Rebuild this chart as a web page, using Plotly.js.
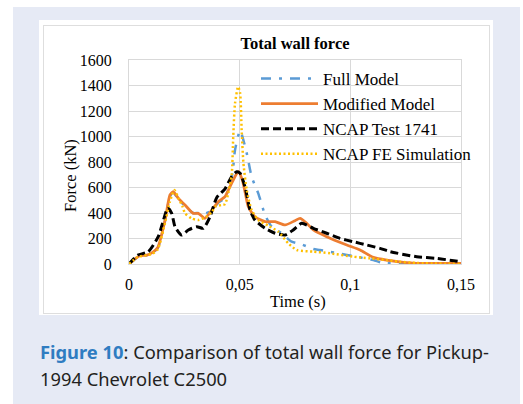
<!DOCTYPE html>
<html>
<head>
<meta charset="utf-8">
<script src="https://cdn.plot.ly/plotly-3.0.1.min.js"></script>
<style>
  html, body { margin:0; padding:0; background:#ffffff; }
  #stage { position:relative; width:523px; height:404px; overflow:hidden; }
  #panel { position:absolute; left:13px; top:7px; width:507px; height:397px; background:#e6eaf5; }
  #box { position:absolute; left:39px; top:20px; width:454px; height:295px; background:#ffffff; }
  #frame { position:absolute; left:43px; top:25px; width:445px; height:287px; border:1px solid #dedede; }
  #chart { position:absolute; left:0; top:0; width:523px; height:404px; }
  #caption { position:absolute; left:40px; top:339px; font-family:"Noto Sans","Open Sans",sans-serif; font-size:18px; line-height:27px; color:#231f20; white-space:nowrap; transform-origin:0 0; }
  #caption b { color:#2f7cc1; }
</style>
</head>
<body>
<div id="stage">
  <div id="panel"></div>
  <div id="box"></div>
  <div id="frame"></div>
  <div id="chart"></div>
  <div id="caption"><div id="cap1"><b>Figure 10</b>: Comparison of total wall force for Pickup-</div><div>1994 Chevrolet C2500</div></div>
</div>
<script>
// ---- data (time in s, force in kN) ----
const seriesNames = ["Full Model", "Modified Model", "NCAP Test 1741", "NCAP FE Simulation"];

const fullT = [0, 0.003, 0.005, 0.008, 0.0105, 0.013, 0.0163, 0.0185, 0.020, 0.0223, 0.0253, 0.029, 0.0313, 0.0343, 0.0374, 0.0403, 0.0434, 0.0464, 0.0471, 0.0479, 0.0502, 0.0532, 0.0554, 0.0584, 0.0615, 0.0645, 0.069, 0.0735, 0.078, 0.0833, 0.0863, 0.0984, 0.1104, 0.1144, 0.13, 0.15];
const fullF = [0, 42, 62, 68, 88, 125, 340, 530, 560, 510, 455, 400, 400, 395, 420, 480, 520, 680, 763, 894, 1045, 868, 685, 554, 384, 292, 241, 175, 154, 118, 110, 71, 31, 10, 5, 3];

const modT = [0, 0.003, 0.005, 0.008, 0.0105, 0.013, 0.0163, 0.0185, 0.020, 0.0223, 0.0253, 0.029, 0.0313, 0.0343, 0.0374, 0.0403, 0.0434, 0.0449, 0.0471, 0.0494, 0.0512, 0.0527, 0.0539, 0.0569, 0.0615, 0.066, 0.0705, 0.075, 0.0773, 0.0803, 0.0833, 0.0893, 0.0984, 0.1044, 0.1104, 0.1164, 0.13, 0.14, 0.15];
const modF = [0, 45, 65, 70, 90, 130, 345, 541, 567, 515, 463, 397, 397, 358, 423, 489, 528, 580, 659, 724, 659, 541, 449, 371, 332, 332, 306, 340, 358, 319, 267, 214, 149, 110, 52, 31, 5, 5, 5];

const testT = [0, 0.004, 0.0087, 0.0132, 0.0155, 0.0175, 0.0193, 0.0208, 0.0238, 0.0268, 0.0306, 0.0336, 0.0366, 0.0396, 0.0434, 0.0464, 0.0487, 0.0502, 0.0524, 0.0547, 0.0569, 0.0615, 0.066, 0.0705, 0.0742, 0.078, 0.0833, 0.0893, 0.0953, 0.1013, 0.1074, 0.1134, 0.1179, 0.13, 0.139, 0.1496];
const testF = [0, 70, 96, 214, 340, 440, 397, 292, 227, 267, 292, 280, 371, 520, 590, 685, 724, 711, 606, 424, 345, 280, 241, 227, 267, 319, 280, 241, 201, 175, 149, 123, 97, 57, 44, 18];

const feT = [0, 0.004, 0.008, 0.0105, 0.013, 0.0165, 0.0185, 0.0205, 0.0225, 0.0242, 0.0253, 0.0283, 0.0313, 0.0348, 0.0375, 0.0389, 0.0419, 0.0434, 0.0449, 0.0464, 0.0471, 0.0479, 0.0493, 0.0502, 0.0509, 0.0517, 0.0532, 0.0554, 0.0584, 0.0629, 0.0675, 0.072, 0.0758, 0.0833, 0.0908, 0.1013, 0.109, 0.1164, 0.122, 0.13, 0.15];
const feF = [0, 55, 70, 80, 115, 340, 489, 580, 510, 449, 397, 358, 345, 370, 410, 449, 463, 470, 560, 700, 1000, 1260, 1390, 1339, 1051, 790, 580, 424, 345, 300, 253, 162, 110, 97, 84, 57, 44, 31, 18, 8, 0];

const xTickVals = [0, 0.05, 0.1, 0.15];
const xTickText = ["0", "0,05", "0,1", "0,15"];

const serif = "Liberation Serif, Times New Roman, serif";

const traces = [
  { x: fullT, y: fullF, name: seriesNames[0], legendgroup: "a", mode: "lines",
    line: { color: "#5b9bd5", width: 2.5, dash: "10px,8px,3px,8px", shape: "spline", smoothing: 0.6 } },
  { x: modT, y: modF, name: seriesNames[1], legendgroup: "b", mode: "lines",
    line: { color: "#ed7d31", width: 2.75, shape: "spline", smoothing: 0.6 } },
  { x: testT, y: testF, name: seriesNames[2], legendgroup: "c", mode: "lines",
    line: { color: "#000000", width: 3, dash: "8px,4px", shape: "spline", smoothing: 0.6 } },
  { x: feT, y: feF, name: seriesNames[3], legendgroup: "d", mode: "lines",
    line: { color: "#ffc000", width: 2.5, dash: "2px,2.5px", shape: "spline", smoothing: 0.6 } }
];

const layout = {
  width: 523, height: 404,
  margin: { l: 129, r: 62, t: 60, b: 140 },
  paper_bgcolor: "rgba(0,0,0,0)",
  plot_bgcolor: "rgba(0,0,0,0)",
  showlegend: true,
  font: { family: serif, color: "#000000", size: 16 },
  title: { text: "<b>Total wall force</b>", font: { family: serif, size: 16.5, color: "#000" },
           x: 0.5, xref: "paper", y: 1 - 43.5 / 404, yref: "container", yanchor: "middle" },
  xaxis: {
    range: [0, 0.15], tickvals: xTickVals, ticktext: xTickText,
    showgrid: true, gridcolor: "#d9d9d9", gridwidth: 1,
    zeroline: false, showline: true, linecolor: "#d9d9d9", linewidth: 1, mirror: true,
    ticks: "outside", ticklen: 6, tickcolor: "rgba(0,0,0,0)",
    tickfont: { family: serif, size: 16, color: "#000" }, fixedrange: true
  },
  yaxis: {
    range: [0, 1600], dtick: 200, tick0: 0,
    showgrid: true, gridcolor: "#d9d9d9", gridwidth: 1,
    zeroline: false, showline: true, linecolor: "#d9d9d9", linewidth: 1, mirror: true,
    ticks: "outside", ticklen: 13, tickcolor: "rgba(0,0,0,0)",
    tickfont: { family: serif, size: 16, color: "#000" }, fixedrange: true
  },
  legend: {
    x: (256 - 129) / 332, xanchor: "left", y: (264 - 61) / 204, yanchor: "top",
    bgcolor: "rgba(0,0,0,0)", borderwidth: 0,
    font: { family: serif, size: 17, color: "#000" },
    traceorder: "grouped", tracegroupgap: 0, itemwidth: 57
  },
  annotations: [
    { text: "Force (kN)", textangle: -90, xref: "paper", yref: "paper",
      x: (70 - 129) / 332, y: (264 - 176) / 204, xanchor: "center", yanchor: "middle",
      showarrow: false, font: { family: serif, size: 16.5, color: "#000" } },
    { text: "Time (s)", xref: "paper", yref: "paper",
      x: (298 - 129) / 332, y: (264 - 301) / 204, xanchor: "center", yanchor: "middle",
      showarrow: false, font: { family: serif, size: 16.5, color: "#000" } }
  ]
};

Plotly.newPlot("chart", traces, layout, { staticPlot: true, displayModeBar: false });

// fit caption width to the reference line length
const cap = document.getElementById("caption");
const w = document.getElementById("cap1").getBoundingClientRect().width;
if (w > 0) cap.style.transform = "scaleX(" + (449 / w) + ")";
</script>
</body>
</html>
